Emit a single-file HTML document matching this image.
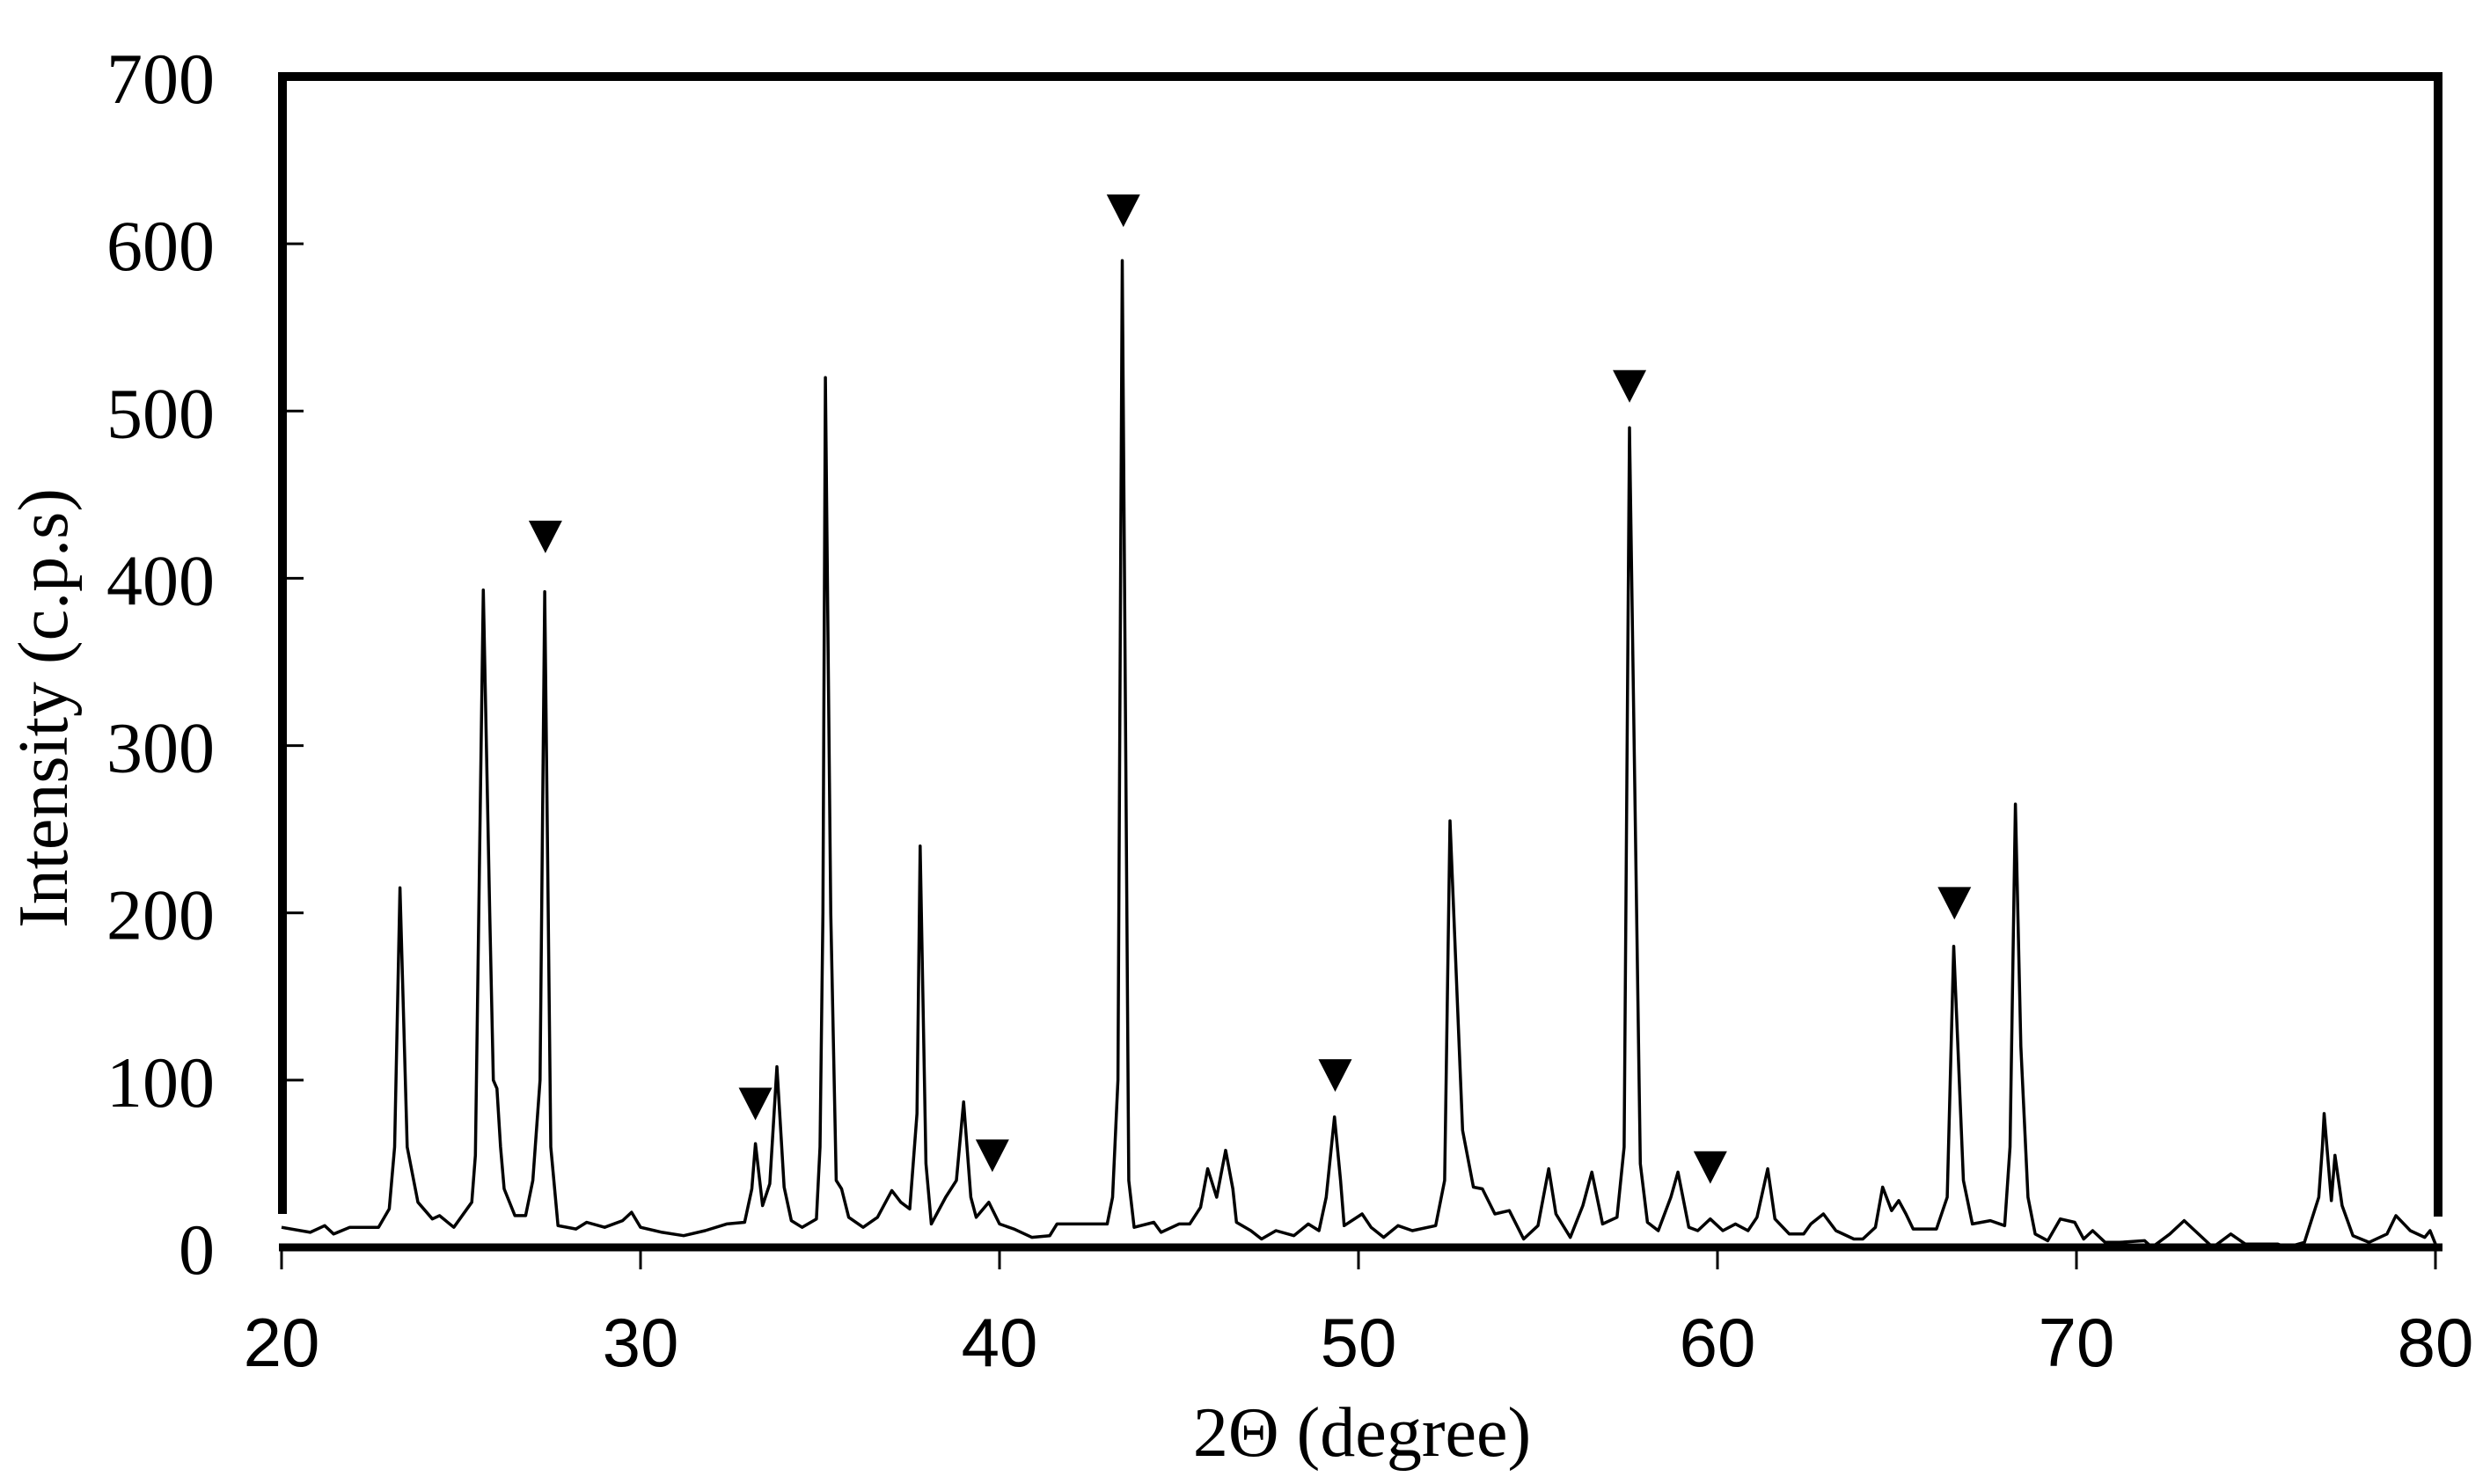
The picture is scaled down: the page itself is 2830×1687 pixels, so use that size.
<!DOCTYPE html>
<html><head><meta charset="utf-8"><style>
html,body{margin:0;padding:0;background:#fff;}
svg{display:block;}
</style></head><body>
<svg id="chart" width="2830" height="1687" viewBox="0 0 2830 1687" xmlns="http://www.w3.org/2000/svg">
<g id="frame"></g>
<g id="ticks"></g>
<path id="pattern" fill="none" stroke="#000" stroke-width="3.5" stroke-linejoin="round"></path>
<g id="markers"></g>
<text x="1548" y="1655" font-family="Liberation Serif, serif" font-size="80" text-anchor="middle">2Θ (degree)</text>
<text transform="translate(76,805) rotate(-90)" font-family="Liberation Serif, serif" font-size="80" text-anchor="middle">Intensity (c.p.s)</text>
</svg>
<script>
const twoTheta = [20,20.8,21.2,21.45,21.9,22.7,23.0,23.15,23.3,23.5,23.8,24.2,24.4,24.8,25.3,25.4,25.62,25.8,25.9,26.0,26.1,26.2,26.5,26.8,27.0,27.2,27.33,27.5,27.7,28.2,28.5,29.0,29.5,29.75,30.0,30.6,31.2,31.8,32.4,32.9,33.1,33.2,33.4,33.6,33.8,34.0,34.2,34.5,34.9,35.0,35.08,35.15,35.3,35.45,35.6,35.8,36.2,36.6,37.0,37.25,37.5,37.7,37.79,37.95,38.1,38.5,38.8,39.0,39.2,39.35,39.7,40.0,40.4,40.9,41.4,41.6,42.4,43.0,43.15,43.3,43.42,43.6,43.75,44.3,44.5,45.0,45.3,45.6,45.8,46.05,46.3,46.5,46.6,47.0,47.3,47.7,48.2,48.6,48.9,49.1,49.33,49.5,49.6,50.1,50.35,50.7,51.1,51.5,52.15,52.4,52.55,52.9,53.2,53.45,53.8,54.2,54.6,55.0,55.3,55.5,55.9,56.25,56.5,56.8,57.2,57.4,57.55,57.85,58.05,58.35,58.7,58.9,59.2,59.45,59.8,60.15,60.5,60.85,61.1,61.4,61.6,62.0,62.4,62.6,62.95,63.3,63.8,64.05,64.4,64.6,64.85,65.05,65.25,65.45,66.1,66.4,66.58,66.7,66.85,67.1,67.6,68.0,68.15,68.3,68.45,68.65,68.85,69.2,69.55,69.95,70.2,70.45,70.8,71.2,71.9,72.1,72.6,73.0,73.3,73.8,74.3,74.7,75.6,75.85,76.35,76.75,76.85,76.9,77.1,77.2,77.4,77.7,78.15,78.65,78.9,79.3,79.7,79.85,80];
const intensity = [12,9,13,8,12,12,23,60,215,60,27,17,19,12,27,55,393,200,100,95,60,35,19,19,40,100,392,60,13,11,15,12,16,21,12,9,7,10,14,15,35,62,25,38,108,36,16,12,17,60,200,520,200,40,35,18,12,18,34,27,23,80,240,50,14,30,40,87,30,18,27,14,11,6,7,14,14,14,30,100,590,40,12,15,9,14,14,24,47,30,58,35,15,10,5,10,7,14,10,30,78,40,13,20,12,6,13,10,13,40,255,70,36,35,20,22,5,13,47,20,6,25,45,14,18,60,490,50,15,10,30,45,12,10,17,10,14,10,18,47,17,8,8,14,20,10,5,5,12,36,22,28,20,11,11,30,180,118,40,14,16,13,60,265,120,30,8,4,17,15,5,10,3,3,4,0,8,16,10,0,8,2,2,0,3,30,60,80,28,55,25,7,3,8,19,10,6,10,2];
const markerTheta = [27.35,33.2,39.8,43.45,49.35,57.55,59.8,66.6];
const markerValue = [415,76,45,610,93,505,38,196];
const xTicks = [20,30,40,50,60,70,80];
const yTicks = [0,100,200,300,400,500,600,700];

const X0=320, X1=2768, Y0=1418, Y1=87;
const xs = v => X0 + (v-20)/(80-20)*(X1-X0);
const ys = v => Y0 - v/700*(Y0-Y1);
const NS='http://www.w3.org/2000/svg';
function mk(tag, attrs, parent){const e=document.createElementNS(NS,tag);for(const k in attrs)e.setAttribute(k,attrs[k]);parent.appendChild(e);return e;}

const frame=document.getElementById('frame');
let e;
e=mk('line',{x1:317,y1:87,x2:2776,y2:87,stroke:'#000','stroke-width':10},frame);


e=mk('line',{x1:321,y1:82,x2:321,y2:1380,stroke:'#000','stroke-width':10},frame);


e=mk('line',{x1:2771,y1:82,x2:2771,y2:1383,stroke:'#000','stroke-width':10},frame);


e=mk('line',{x1:317,y1:Y0,x2:2776,y2:Y0,stroke:'#000','stroke-width':9},frame);



const ticks=document.getElementById('ticks');
xTicks.forEach(v=>{
  const t=mk('line',{x1:xs(v),y1:Y0,x2:xs(v),y2:Y0+25,stroke:'#000','stroke-width':3},ticks);
  
  
  const l=mk('text',{x:xs(v),y:1553,'font-family':'Liberation Sans, sans-serif','font-size':78,'text-anchor':'middle'},ticks);
  l.textContent=v;
  
  
});
yTicks.forEach(v=>{
  if(v>0&&v<700){
    const t=mk('line',{x1:326,y1:ys(v),x2:345,y2:ys(v),stroke:'#000','stroke-width':3},ticks);
    
    
  }
  const l=mk('text',{x:244,y:ys(v)+30,'font-family':'Liberation Serif, serif','font-size':82,'text-anchor':'end'},ticks);
  l.textContent=v;
  
  
});

let d='';
twoTheta.forEach((t,i)=>{d+=(i?'L':'M')+xs(t).toFixed(1)+' '+ys(intensity[i]).toFixed(1);});
document.getElementById('pattern').setAttribute('d',d);

const markers=document.getElementById('markers');
markerTheta.forEach((t,i)=>{
  const cx=xs(t), ty=ys(markerValue[i]);
  const p=mk('polygon',{points:`${cx-19},${ty-37} ${cx+19},${ty-37} ${cx},${ty}`,fill:'#000'},markers);
  
  
});
</script>
</body></html>
